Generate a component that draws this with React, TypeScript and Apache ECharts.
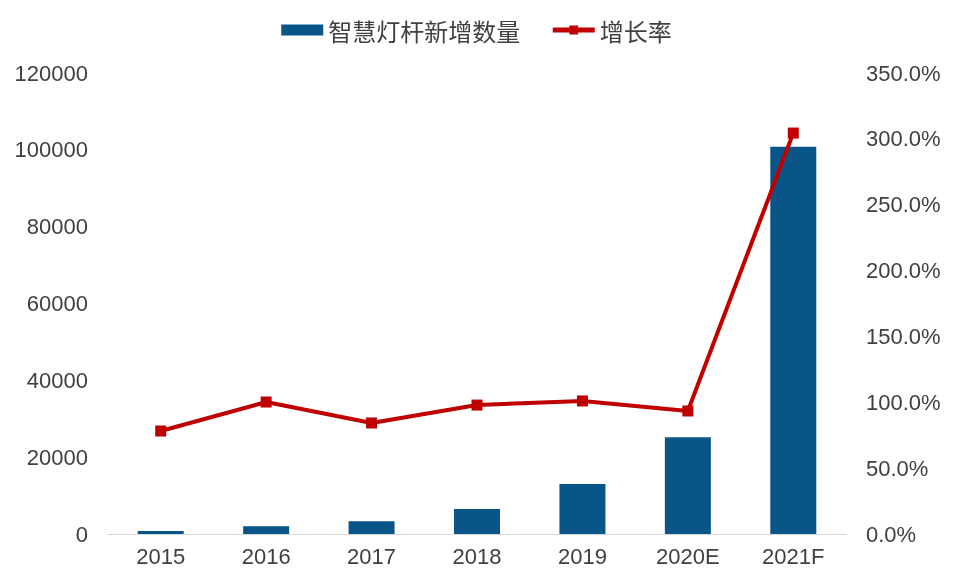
import React, { useEffect, useRef } from "react";
import * as echarts from "echarts";

const categories = ["2015", "2016", "2017", "2018", "2019", "2020E", "2021F"];
const newPoles = [780, 2000, 3300, 6500, 13000, 25200, 100800];
const growthRate = [0.782, 1.002, 0.843, 0.979, 1.01, 0.934, 3.044];
const leftTicks = { min: 0, max: 120000, interval: 20000 };
const rightTicks = { min: 0, max: 3.5, interval: 0.5 };

const FONT = "'Liberation Sans', 'Noto Sans CJK SC', sans-serif";

export default function App() {
  const ref = useRef<HTMLDivElement>(null);
  useEffect(() => {
    const chart = echarts.init(ref.current!, null, { renderer: "svg" });
    chart.setOption({
      animation: false,
      textStyle: { fontFamily: FONT },
      legend: {
        top: 13,
        left: "center",
        itemGap: 30,
        itemWidth: 42,
        itemHeight: 11,
        textStyle: { fontSize: 24, color: "#404040", fontFamily: "'Noto Sans CJK SC', sans-serif" },
        data: [
          { name: "智慧灯杆新增数量", icon: "rect" },
          { name: "增长率", lineStyle: { width: 5 }, itemStyle: { color: "#c00000" } },
        ],
      },
      grid: { left: 108, right: 107, top: 73, bottom: 52 },
      xAxis: {
        type: "category",
        data: categories,
        axisLine: { lineStyle: { color: "#d9d9d9", width: 1 } },
        axisTick: { show: false },
        axisLabel: { fontSize: 22, color: "#404040", margin: 11 },
      },
      yAxis: [
        {
          type: "value",
          ...leftTicks,
          splitLine: { show: false },
          axisLine: { show: false },
          axisTick: { show: false },
          axisLabel: {
            fontSize: 22,
            color: "#404040",
            margin: 20,
            formatter: (v: number) => String(v),
          },
        },
        {
          type: "value",
          ...rightTicks,
          position: "right",
          splitLine: { show: false },
          axisLine: { show: false },
          axisTick: { show: false },
          axisLabel: {
            fontSize: 22,
            color: "#404040",
            margin: 20,
            formatter: (v: number) => (v * 100).toFixed(1) + "%",
          },
        },
      ],
      series: [
        {
          name: "智慧灯杆新增数量",
          type: "bar",
          data: newPoles,
          barWidth: 46,
          itemStyle: { color: "#0a5587" },
        },
        {
          name: "增长率",
          type: "line",
          yAxisIndex: 1,
          data: growthRate,
          symbol: "rect",
          symbolSize: 11,
          lineStyle: { color: "#c00000", width: 4 },
          itemStyle: { color: "#c00000" },
        },
      ],
    });
    return () => chart.dispose();
  }, []);
  return (
    <div
      ref={ref}
      style={{ position: "fixed", left: 0, top: 0, width: 953, height: 586 }}
    />
  );
}
